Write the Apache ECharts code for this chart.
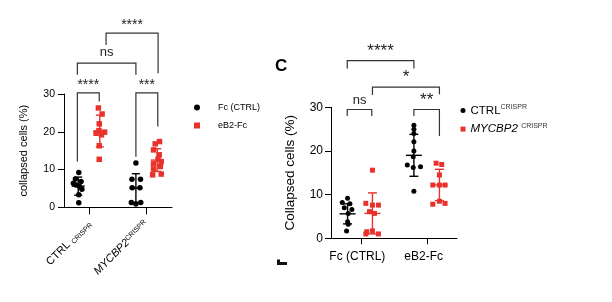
<!DOCTYPE html>
<html>
<head>
<meta charset="utf-8">
<script src="https://cdn.jsdelivr.net/npm/echarts@6/dist/echarts.min.js"></script>
<style>
  html, body { margin: 0; padding: 0; background: #fff; }
  #main { width: 612px; height: 302px; }
</style>
</head>
<body>
<div id="main"></div>
<script>
// ---- left panel (CRISPR lines, Fc vs eB2-Fc) ----
const leftTicks = [1, 3];
const leftTickLabels = ['CTRL', 'MYCBP2'];
// [x, collapsed %]
const leftFcPts = [
  [0.62, 9.2], [0.50, 7.5], [0.70, 6.8], [0.43, 6.4], [0.52, 5.9], [0.64, 5.6], [0.73, 4.8], [0.62, 3.3], [0.62, 1.2],
  [2.63, 11.7], [2.49, 7.4], [2.79, 7.4], [2.50, 5.2], [2.77, 5.2], [2.47, 1.3], [2.63, 0.9], [2.80, 1.3]
];
const leftEb2Pts = [
  [1.31, 26.3], [1.44, 24.7], [1.34, 22.1], [1.23, 19.6], [1.53, 19.9], [1.33, 20.3], [1.42, 19.2], [1.34, 16.3], [1.34, 12.7],
  [3.31, 16.8], [3.46, 17.4], [3.25, 15.2], [3.45, 13.9], [3.41, 12.7], [3.52, 12.1], [3.25, 11.5], [3.49, 10.8], [3.25, 10.1], [3.52, 8.8], [3.22, 8.6]
];
// [x, mean, sd]
const leftFcStats = [[0.60, 5.6, 2.4], [2.63, 5.1, 3.8]];
const leftEb2Stats = [[1.36, 20.2, 4.2], [3.38, 12.5, 3.0]];
// brackets [x1, x2, yTop, yLeftEnd, yRightEnd]
const leftSig = [[0.57, 1.34, 30.3, 12.1, 28.0], [2.63, 3.40, 30.3, 13.4, 21.4], [0.57, 2.63, 38.2, 35.1, 35.1], [1.58, 3.41, 46.1, 43.0, 35.5]];
const leftSigText = ['****', '***', 'ns', '****'];

// ---- right panel (C) ----
const rightTicks = [1, 3];
const rightTickLabels = ['Fc (CTRL)', 'eB2-Fc'];
const rightCtrlPts = [
  [0.60, 9.2], [0.44, 8.2], [0.67, 7.9], [0.50, 7.0], [0.73, 6.6], [0.62, 5.7], [0.60, 3.8], [0.62, 3.2], [0.57, 1.7],
  [2.60, 25.9], [2.60, 25.0], [2.60, 24.0], [2.60, 22.1], [2.60, 20.0], [2.58, 18.7], [2.40, 16.8], [2.58, 16.2], [2.80, 16.4], [2.60, 10.8]
];
const rightMycPts = [
  [1.35, 15.6], [1.15, 8.0], [1.35, 7.6], [1.53, 7.6], [1.26, 6.1], [1.41, 5.7], [1.18, 1.5], [1.35, 1.7], [1.15, 1.0], [1.53, 1.0],
  [3.27, 17.2], [3.44, 16.9], [3.37, 14.5], [3.17, 12.2], [3.37, 12.2], [3.54, 12.2], [3.37, 8.5], [3.17, 7.8], [3.54, 8.0]
];
const rightCtrlStats = [[0.60, 5.6, 2.3], [2.60, 19.0, 4.8]];
const rightMycStats = [[1.35, 5.7, 4.7], [3.37, 12.2, 3.6]];
const rightSig = [[0.59, 1.33, 29.5, 28.0, 28.0], [2.60, 3.37, 29.5, 28.0, 23.4], [1.35, 3.37, 34.6, 32.8, 33.0], [0.59, 2.60, 40.7, 38.9, 38.9]];
const rightSigText = ['ns', '**', '*', '****'];

const yTicks = [0, 10, 20, 30];

const FONT = 'Liberation Sans, Arial, sans-serif';
const BLACK = '#000';
const RED = '#e8322b';

const chart = echarts.init(document.getElementById('main'), null, { renderer: 'canvas' });

// mean +/- SD bars
function errBar(meanW, capW) {
  return function (params, api) {
    const x = api.value(0), m = api.value(1), s = api.value(2);
    const c = api.coord([x, m]);
    const t = api.coord([x, m + s]);
    const b = api.coord([x, m - s]);
    const st = { stroke: api.visual('color'), lineWidth: 1.4 };
    return {
      type: 'group',
      children: [
        { type: 'line', shape: { x1: t[0], y1: t[1], x2: b[0], y2: b[1] }, style: st },
        { type: 'line', shape: { x1: t[0] - capW / 2, y1: t[1], x2: t[0] + capW / 2, y2: t[1] }, style: st },
        { type: 'line', shape: { x1: b[0] - capW / 2, y1: b[1], x2: b[0] + capW / 2, y2: b[1] }, style: st },
        { type: 'line', shape: { x1: c[0] - meanW / 2, y1: c[1], x2: c[0] + meanW / 2, y2: c[1] }, style: st }
      ]
    };
  };
}

// significance brackets
function bracket(texts, starSize, nsSize, nsGap) {
  return function (params, api) {
    const p1 = api.coord([api.value(0), api.value(3)]);
    const p2 = api.coord([api.value(0), api.value(2)]);
    const p3 = api.coord([api.value(1), api.value(2)]);
    const p4 = api.coord([api.value(1), api.value(4)]);
    const label = texts[params.dataIndex];
    const star = label.indexOf('*') >= 0;
    return {
      type: 'group',
      children: [
        { type: 'polyline', shape: { points: [p1, p2, p3, p4] }, style: { stroke: '#333', lineWidth: 1.2, fill: null } },
        {
          type: 'text', x: (p2[0] + p3[0]) / 2, y: p2[1] - (star ? 1 : nsGap),
          style: { text: label, fontSize: star ? starSize : nsSize, fontFamily: FONT, fill: '#222', align: 'center', verticalAlign: 'bottom' }
        }
      ]
    };
  };
}

const option = {
  animation: false,
  textStyle: { fontFamily: FONT },
  grid: [
    { left: 64, top: 94, width: 108, height: 113.3 },
    { left: 331, top: 107.3, width: 126, height: 131 }
  ],
  xAxis: [
    {
      gridIndex: 0, type: 'value', min: 0.1, max: 3.9,
      splitLine: { show: false },
      axisLine: { show: true, lineStyle: { color: '#000', width: 1 } },
      axisTick: { show: true, customValues: leftTicks, length: 7, lineStyle: { color: '#000' } },
      axisLabel: {
        customValues: leftTicks, rotate: 45, margin: 15, color: '#000',
        formatter: v => v === leftTicks[0]
          ? '{n|' + leftTickLabels[0] + '} {s|CRISPR}'
          : '{i|' + leftTickLabels[1] + '}{t|CRISPR}',
        rich: {
          n: { fontSize: 11, fontFamily: FONT, color: '#000' },
          i: { fontSize: 11, fontFamily: FONT, fontStyle: 'italic', color: '#000' },
          s: { fontSize: 7, fontFamily: FONT, color: '#000', verticalAlign: 'bottom' },
          t: { fontSize: 7, fontFamily: FONT, color: '#000', verticalAlign: 'top' }
        }
      }
    },
    {
      gridIndex: 1, type: 'value', min: 0.1, max: 3.9,
      splitLine: { show: false },
      axisLine: { show: true, lineStyle: { color: '#000', width: 1 } },
      axisTick: { show: true, customValues: rightTicks, length: 6, lineStyle: { color: '#000' } },
      axisLabel: {
        customValues: rightTicks, margin: 12, fontSize: 12, color: '#000', padding: [0, 7, 0, 0],
        formatter: v => v === rightTicks[0] ? rightTickLabels[0] : rightTickLabels[1]
      }
    }
  ],
  yAxis: [
    {
      gridIndex: 0, type: 'value', min: 0, max: 30, interval: 10,
      splitLine: { show: false },
      axisLine: { show: true, lineStyle: { color: '#000', width: 1 } },
      axisTick: { show: true, length: 6, customValues: yTicks, lineStyle: { color: '#000' } },
      axisLabel: { fontSize: 10.5, color: '#000', margin: 9, customValues: yTicks },
      name: 'collapsed cells (%)', nameLocation: 'middle', nameGap: 35,
      nameTextStyle: { fontSize: 11, color: '#000' }
    },
    {
      gridIndex: 1, type: 'value', min: 0, max: 30, interval: 10,
      splitLine: { show: false },
      axisLine: { show: true, lineStyle: { color: '#000', width: 1 } },
      axisTick: { show: true, length: 6, customValues: yTicks, lineStyle: { color: '#000' } },
      axisLabel: { fontSize: 12, color: '#000', margin: 8, customValues: yTicks },
      name: 'Collapsed cells (%)', nameLocation: 'middle', nameGap: 34,
      nameTextStyle: { fontSize: 13.5, color: '#000' }
    }
  ],
  legend: [
    {
      orient: 'vertical', left: 189, top: 96.5, itemGap: 6, itemWidth: 6, itemHeight: 6,
      data: [{ name: 'Fc (CTRL)', icon: 'circle' }, { name: 'eB2-Fc', icon: 'rect' }],
      textStyle: { fontSize: 9, color: '#000', lineHeight: 12, padding: [0, 0, 0, 13] }
    },
    {
      orient: 'vertical', left: 455.5, top: 99, itemGap: 5.6, itemWidth: 5, itemHeight: 5,
      data: [{ name: 'CTRL', icon: 'circle' }, { name: 'MYCBP2', icon: 'rect' }],
      formatter: name => name === 'CTRL' ? '{a|CTRL}{s|CRISPR}' : '{i|MYCBP2} {s|CRISPR}',
      textStyle: {
        color: '#000', lineHeight: 13,
        rich: {
          a: { fontSize: 11.5, fontFamily: FONT, color: '#000' },
          i: { fontSize: 11.5, fontFamily: FONT, fontStyle: 'italic', color: '#000' },
          s: { fontSize: 7, fontFamily: FONT, color: '#333', verticalAlign: 'top' }
        }
      }
    }
  ],
  graphic: [
    { type: 'text', left: 275, top: 58, style: { text: 'C', font: 'bold 17px ' + FONT, fill: '#000' } },
    { type: 'rect', left: 277, top: 262, shape: { width: 10, height: 3 }, style: { fill: '#111' } },
    { type: 'rect', left: 277, top: 259.5, shape: { width: 3, height: 3 }, style: { fill: '#111' } }
  ],
  series: [
    { name: 'Fc (CTRL)', type: 'scatter', xAxisIndex: 0, yAxisIndex: 0, symbol: 'circle', symbolSize: 5.5, itemStyle: { color: BLACK, opacity: 1 }, data: leftFcPts, z: 3 },
    { name: 'eB2-Fc', type: 'scatter', xAxisIndex: 0, yAxisIndex: 0, symbol: 'rect', symbolSize: 5.5, itemStyle: { color: RED, opacity: 1 }, data: leftEb2Pts, z: 3 },
    { type: 'custom', xAxisIndex: 0, yAxisIndex: 0, itemStyle: { color: BLACK }, renderItem: errBar(13, 8), data: leftFcStats, z: 4, silent: true },
    { type: 'custom', xAxisIndex: 0, yAxisIndex: 0, itemStyle: { color: RED }, renderItem: errBar(13, 8), data: leftEb2Stats, z: 4, silent: true },
    { type: 'custom', xAxisIndex: 0, yAxisIndex: 0, renderItem: bracket(leftSigText, 14, 13, 4), data: leftSig, encode: { x: [0, 1], y: [2, 3, 4] }, clip: false, silent: true },

    { name: 'CTRL', type: 'scatter', xAxisIndex: 1, yAxisIndex: 1, symbol: 'circle', symbolSize: 5, itemStyle: { color: BLACK, opacity: 1 }, data: rightCtrlPts, z: 3 },
    { name: 'MYCBP2', type: 'scatter', xAxisIndex: 1, yAxisIndex: 1, symbol: 'rect', symbolSize: 5, itemStyle: { color: RED, opacity: 1 }, data: rightMycPts, z: 3 },
    { type: 'custom', xAxisIndex: 1, yAxisIndex: 1, itemStyle: { color: BLACK }, renderItem: errBar(16, 9), data: rightCtrlStats, z: 4, silent: true },
    { type: 'custom', xAxisIndex: 1, yAxisIndex: 1, itemStyle: { color: RED }, renderItem: errBar(16, 9), data: rightMycStats, z: 4, silent: true },
    { type: 'custom', xAxisIndex: 1, yAxisIndex: 1, renderItem: bracket(rightSigText, 17, 13, 3), data: rightSig, encode: { x: [0, 1], y: [2, 3, 4] }, clip: false, silent: true }
  ]
};

chart.setOption(option);
</script>
</body>
</html>
